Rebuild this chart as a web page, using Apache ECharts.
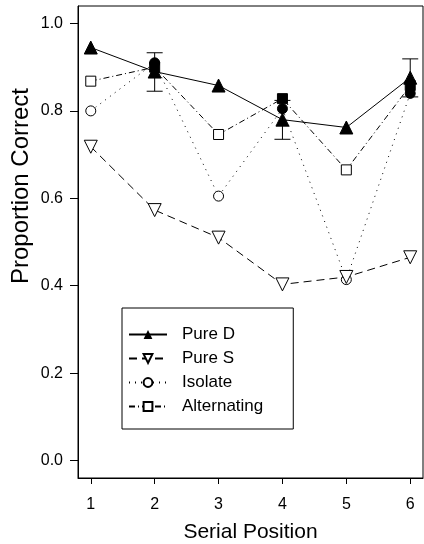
<!DOCTYPE html>
<html><head><meta charset="utf-8">
<script src="https://cdn.jsdelivr.net/npm/echarts@6/dist/echarts.min.js"></script>
<style>html,body{margin:0;padding:0;background:#fff}#c{width:424px;height:544px}</style>
</head><body><div id="c"></div>
<script>
var positions = [1, 2, 3, 4, 5, 6];
var yTicks = [0, 0.2, 0.4, 0.6, 0.8, 1.0];
var pureD = [0.945, 0.89, 0.858, 0.78, 0.762, 0.876];
var pureS = [0.718, 0.573, 0.51, 0.403, 0.42, 0.465];
var isolate = [0.80, 0.91, 0.605, 0.805, 0.414, 0.84];
var alternating = [0.868, 0.90, 0.746, 0.828, 0.665, 0.858];
var errPos = [2, 4, 6];
var errLow = [0.845, 0.735, 0.832];
var errHigh = [0.933, 0.824, 0.919];
var filledPos = [2, 4, 6];

function pairs(vals, filledAllowed) {
  return positions.map(function (p, i) {
    var d = { value: [p, vals[i]] };
    if (filledAllowed && filledPos.indexOf(p) >= 0) {
      d.itemStyle = { color: '#000', borderColor: '#000' };
    }
    return d;
  });
}
var errData = errPos.map(function (p, i) { return [p, errLow[i], errHigh[i]]; });

var font = 'Liberation Sans, Arial, Helvetica, sans-serif';
var chart = echarts.init(document.getElementById('c'), null, { renderer: 'canvas' });
chart.setOption({
  animation: false,
  backgroundColor: '#fff',
  textStyle: { fontFamily: font, color: '#000' },
  grid: { left: 78, right: 1, top: 6, bottom: 66, show: true, borderColor: '#000', borderWidth: 1,
    backgroundColor: 'transparent', containLabel: false, outerBoundsMode: 'none' },
  graphic: [{
    type: 'text', x: 21, y: 186, rotation: Math.PI / 2,
    style: { text: 'Proportion Correct', font: '24px ' + font, fill: '#000', align: 'center', verticalAlign: 'middle' }
  }],
  xAxis: {
    type: 'value', min: 0.8, max: 6.2,
    name: 'Serial Position', nameLocation: 'middle', nameGap: 44,
    nameTextStyle: { fontSize: 21, color: '#000', fontFamily: font },
    axisLine: { show: true, onZero: false, lineStyle: { color: '#000', width: 1 } },
    axisTick: { show: true, inside: false, length: 6, customValues: positions, lineStyle: { color: '#000' } },
    axisLabel: { customValues: positions, fontSize: 16, color: '#000', margin: 19, fontFamily: font },
    splitLine: { show: false }
  },
  yAxis: {
    type: 'value', min: -0.04, max: 1.04,
    axisLine: { show: true, onZero: false, lineStyle: { color: '#000', width: 1 } },
    axisTick: { show: true, inside: false, length: 8, customValues: yTicks, lineStyle: { color: '#000' } },
    axisLabel: { customValues: yTicks, fontSize: 16, color: '#000', margin: 15, fontFamily: font,
      formatter: function (v) { return v.toFixed(1); } },
    splitLine: { show: false }
  },
  legend: {
    orient: 'vertical', left: 122, top: 308,
    backgroundColor: '#fff',
    borderColor: '#000', borderWidth: 1,
    padding: [18, 30, 14, 6],
    itemGap: 7, itemWidth: 38, itemHeight: 11,
    textStyle: { fontSize: 17, color: '#000', fontFamily: font, padding: [0, 0, 0, 10] },
    data: ['Pure D', 'Pure S', 'Isolate', 'Alternating']
  },
  series: [
    {
      name: 'Isolate', type: 'line', data: pairs(isolate, true),
      symbol: 'circle', symbolSize: 10,
      lineStyle: { color: '#000', width: 1, type: [1, 5] },
      itemStyle: { color: '#fff', borderColor: '#000', borderWidth: 1 }, z: 2
    },
    {
      name: 'Alternating', type: 'line', data: pairs(alternating, true),
      symbol: 'rect', symbolSize: 10,
      lineStyle: { color: '#000', width: 1, type: [6, 3, 1, 3] },
      itemStyle: { color: '#fff', borderColor: '#000', borderWidth: 1 }, z: 3
    },
    {
      name: 'Pure S', type: 'line', data: pairs(pureS, false),
      symbol: 'triangle', symbolRotate: 180, symbolSize: 13,
      lineStyle: { color: '#000', width: 1, type: [8, 5] },
      itemStyle: { color: '#fff', borderColor: '#000', borderWidth: 1 }, z: 4
    },
    {
      name: 'Pure D', type: 'line', data: pairs(pureD, false),
      symbol: 'triangle', symbolSize: 13,
      lineStyle: { color: '#000', width: 1, type: 'solid' },
      itemStyle: { color: '#000', borderColor: '#000' }, z: 5
    },
    {
      name: 'err', type: 'custom', data: errData, z: 6,
      renderItem: function (params, api) {
        var x = api.value(0);
        var lo = api.coord([x, api.value(1)]);
        var hi = api.coord([x, api.value(2)]);
        var w = 8;
        var st = { stroke: '#000', lineWidth: 1 };
        return { type: 'group', children: [
          { type: 'line', shape: { x1: lo[0], y1: lo[1], x2: hi[0], y2: hi[1] }, style: st },
          { type: 'line', shape: { x1: lo[0] - w, y1: lo[1], x2: lo[0] + w, y2: lo[1] }, style: st },
          { type: 'line', shape: { x1: hi[0] - w, y1: hi[1], x2: hi[0] + w, y2: hi[1] }, style: st }
        ] };
      }
    }
  ]
});
</script></body></html>
